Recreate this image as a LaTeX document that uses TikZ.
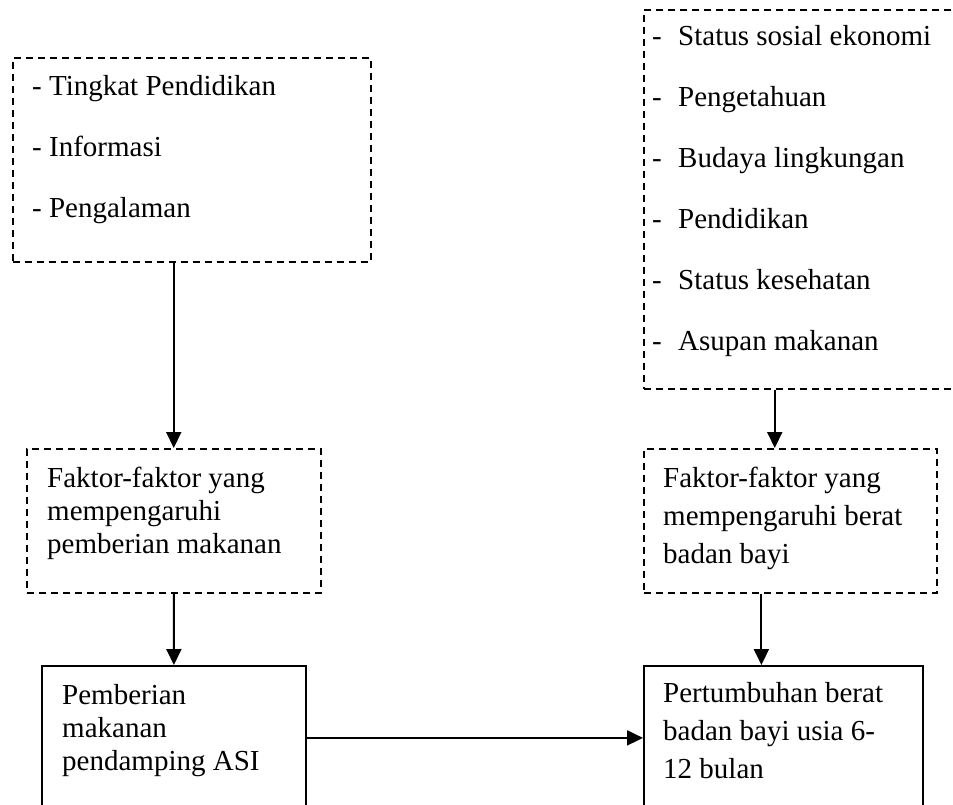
\documentclass[tikz,border=0pt]{standalone}
\usepackage{fontspec}
\setmainfont{Liberation Serif}
\usetikzlibrary{arrows.meta, positioning, calc}
\tikzset{
    dbox/.style={rectangle, draw, dash pattern=on 7pt off 5pt, line width=1.5pt, anchor=north west, inner sep=0pt},
    sbox/.style={rectangle, draw, line width=1.8pt, anchor=north west, inner sep=0pt},
    txt/.style={anchor=base west, align=left, inner sep=0pt, font=\fontsize{29}{33}\selectfont},
    arrow/.style={-{Triangle[length=16pt,width=15pt]}, line width=2pt},
}
\newcommand{\dashitem}[1]{\makebox[26pt][l]{-}#1}

\begin{document}
\begin{tikzpicture}[x=1pt, y=-1pt]
    \useasboundingbox (0,0) rectangle (953,804);
    \clip (0,0) rectangle (953,804);

    % === LEFT COLUMN ===
    \node[dbox, minimum width=358pt, minimum height=204pt] (ibu) at (12,57) {};
    \node[txt] (ibutxt) at ([shift={(20pt,-160pt)}]ibu.north west)
        {- Tingkat Pendidikan\\[28pt] - Informasi\\[28pt] - Pengalaman};

    \node[dbox, minimum width=294pt, minimum height=144pt] (fmakan) at (26,448) {};
    \node[txt] (fmakantxt) at ([shift={(21pt,-105pt)}]fmakan.north west)
        {Faktor-faktor yang\\ mempengaruhi\\ pemberian makanan};

    \node[sbox, minimum width=264pt, minimum height=144pt] (mpasi) at (41,665) {};
    \node[txt] (mpasitxt) at ([shift={(21pt,-105pt)}]mpasi.north west)
        {Pemberian\\ makanan\\ pendamping ASI};

    % === RIGHT COLUMN ===
    \node[dbox, minimum width=330pt, minimum height=379pt] (sosial) at (643,9) {};
    \node[txt] (sosialtxt) at ([shift={(9pt,-341pt)}]sosial.north west)
        {\dashitem{Status sosial ekonomi}\\[28pt] \dashitem{Pengetahuan}\\[28pt] \dashitem{Budaya lingkungan}\\[28pt]
         \dashitem{Pendidikan}\\[28pt] \dashitem{Status kesehatan}\\[28pt] \dashitem{Asupan makanan}};

    \node[dbox, minimum width=293pt, minimum height=144pt] (fberat) at (643,448) {};
    \node[txt] (fberattxt) at ([shift={(20pt,-115pt)}]fberat.north west)
        {Faktor-faktor yang\\[5pt] mempengaruhi berat\\[5pt] badan bayi};

    \node[sbox, minimum width=279pt, minimum height=144pt] (tumbuh) at (643,665) {};
    \node[txt] (tumbuhtxt) at ([shift={(20pt,-113pt)}]tumbuh.north west)
        {Pertumbuhan berat\\[5pt] badan bayi usia 6-\\[5pt] 12 bulan};

    % Arrows
    \draw[arrow] (ibu.south -| fmakan.north) -- (fmakan.north);
    \draw[arrow] (fmakan.south) -- (mpasi.north);
    \draw[arrow] (sosial.south -| {$(fberat.north)+(-15.5pt,0)$}) -- ([xshift=-15.5pt]fberat.north);
    \draw[arrow] (fberat.south -| {$(tumbuh.north)+(-22pt,0)$}) -- ([xshift=-22pt]tumbuh.north);
    \draw[arrow] (mpasi.east) -- (mpasi.east -| tumbuh.west);

\end{tikzpicture}
\end{document}
